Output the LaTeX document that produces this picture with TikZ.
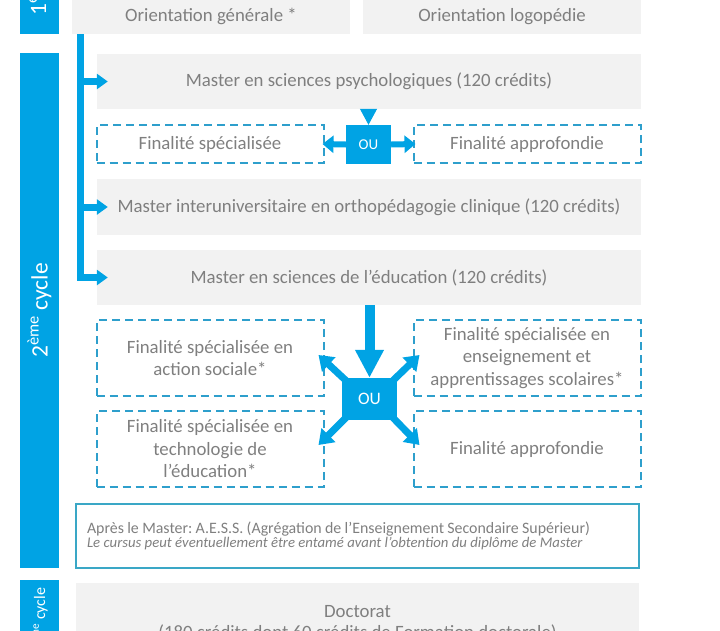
\documentclass[tikz,border=0pt]{standalone}
\usepackage{fontspec}
\setmainfont{Carlito}
\usepackage{tikz}
\usetikzlibrary{arrows.meta,calc}
\definecolor{FontGray}{HTML}{7F7F7F}
\definecolor{GrayNC}{HTML}{F2F2F2}
\definecolor{BlueNC}{HTML}{00A3E4}
\definecolor{DashNC}{HTML}{2E9FCC}
\definecolor{FrameNC}{HTML}{3AA7C6}
\newcommand\nodeog{Orientation générale *}
\newcommand\nodeol{Orientation logopédie}
\newcommand\nodepsy{Master en sciences psychologiques (120 crédits)}
\newcommand\nodeortho{Master interuniversitaire en orthopédagogie clinique (120 crédits)}
\newcommand\nodeedu{Master en sciences de l’éducation (120 crédits)}
\newcommand\nodefs{Finalité spécialisée}
\newcommand\nodefa{Finalité approfondie}
\newcommand\nodefsas{Finalité spécialisée en\\action sociale*}
\newcommand\nodefsea{Finalité spécialisée en\\enseignement et\\apprentissages scolaires*}
\newcommand\nodefste{Finalité spécialisée en\\technologie de\\l’éducation*}
\newcommand\nodeaess{{\fontsize{15.9}{16}\selectfont Après le Master: A.E.S.S. (Agrégation de l’Enseignement Secondaire Supérieur)}\\
  {\fontsize{14.75}{16}\selectfont\itshape Le cursus peut éventuellement être entamé avant l’obtention du diplôme de Master}}
\newcommand\nodedoc{Doctorat\\(180 crédits dont 60 crédits de Formation doctorale)}
\tikzstyle{mynodestyle} = [rectangle, inner sep=0pt, text=FontGray, align=center, font=\fontsize{18.8}{22.5}\selectfont]
\tikzstyle{gn} = [mynodestyle, fill=GrayNC, minimum width=544pt, minimum height=55pt]
\tikzstyle{dn} = [mynodestyle, draw=DashNC, line width=2pt, dash pattern=on 8pt off 5pt, minimum width=227pt, minimum height=76pt]
\tikzstyle{oun} = [rectangle, inner sep=0pt, fill=BlueNC, text=white]
\tikzstyle{cn} = [rectangle, inner sep=0pt, fill=BlueNC, text=white, rotate=90, minimum height=39pt, font=\fontsize{23.5}{23.5}\selectfont]
\tikzstyle{flow} = [draw=BlueNC, line width=7pt, -{Triangle[length=11pt,width=15pt]}]
\tikzstyle{flowsm} = [draw=BlueNC, line width=6pt, -{Triangle[length=11pt,width=17pt]}]
\tikzstyle{flowbig} = [draw=BlueNC, line width=10pt, -{Triangle[length=28pt,width=27pt]}]
\tikzstyle{flowdiag} = [draw=BlueNC, line width=7pt, -{Triangle[length=14pt,width=19pt]}]
\tikzset{every picture/.style={x=1pt, y=-1pt}}

\begin{document}
\begin{tikzpicture}
\useasboundingbox (0,0) rectangle (720,630);
\clip (0,0) rectangle (720,630);
\node[cn, minimum width=116pt] (c1) at (39.5,-24) {1\textsuperscript{er} cycle};
\node[cn, minimum width=515pt] (c2) at (39.5,310.5) {2\textsuperscript{ème} cycle};
\node[cn, minimum width=80pt, font=\fontsize{16}{16}\selectfont] (c3) at (39.5,620) {3\textsuperscript{ème} cycle};
\node[gn, minimum width=278pt, minimum height=35pt] (og) at (211,16.5) {\nodeog};
\node[gn, minimum width=278pt, minimum height=35pt] (ol) at (502,16.5) {\nodeol};
\node[gn] (psy) at (369,81.5) {\nodepsy};
\node[dn, minimum height=38pt] (fs) at (210,144) {\nodefs};
\node[dn, minimum height=38pt] (fa) at (527,144) {\nodefa};
\node[oun, minimum width=45pt, minimum height=39pt, font=\fontsize{15}{15}\selectfont] (ou) at (368.5,144.5) {OU};
\node[gn, minimum height=56pt] (ortho) at (369,207) {\nodeortho};
\node[gn] (edu) at (369,277.5) {\nodeedu};
\node[dn] (fsas) at (210,358) {\nodefsas};
\node[dn] (fsea) at (527,358) {\nodefsea};
\node[dn] (fste) at (210,449) {\nodefste};
\node[dn] (fa2) at (527,449) {\nodefa};
\node[oun, minimum width=55pt, minimum height=42pt, font=\fontsize{17.5}{17.5}\selectfont] (ou2) at (369.5,399) {OU};
\node[mynodestyle, draw=FrameNC, line width=1.2pt, minimum width=563pt, minimum height=64pt, text width=541pt, inner xsep=11pt, align=left, font=\frenchspacing] (aess) at (357.5,536) {\nodeaess};
\node[gn, minimum width=563pt, minimum height=80pt, font=\fontsize{18.8}{21}\selectfont] (doc) at (357.5,623) {\nodedoc};
\coordinate (trunk) at (80.5,34);
\draw [flow] (trunk) |- ([xshift=11pt]edu.west);
\draw [flow] (trunk |- psy.west) -- ([xshift=11pt]psy.west);
\draw [flow] (trunk |- ortho.west) -- ([xshift=11pt]ortho.west);
\draw [draw=BlueNC, line width=1pt, -{Triangle[length=16pt,width=17pt]}] (psy.south -| ou.north) -- (ou.north);
\draw [flowsm] (ou.west) -- ($(fs.east)+(-2,0)$);
\draw [flowsm] (ou.east) -- ($(fa.west)+(3,0)$);
\draw [flowbig] (edu.south -| ou2.north) -- (ou2.north);
\draw [flowdiag] ($(ou2.center)!0.75!(ou2.north west)$) -- ($(fsas.east)+(-6,-3)$);
\draw [flowdiag] ($(ou2.center)!0.75!(ou2.north east)$) -- ($(fsea.west)+(7,-3)$);
\draw [flowdiag] ($(ou2.center)!0.75!(ou2.south west)$) -- ($(fste.east)+(-6,-4)$);
\draw [flowdiag] ($(ou2.center)!0.75!(ou2.south east)$) -- ($(fa2.west)+(7,-4)$);
\end{tikzpicture}
\end{document}
